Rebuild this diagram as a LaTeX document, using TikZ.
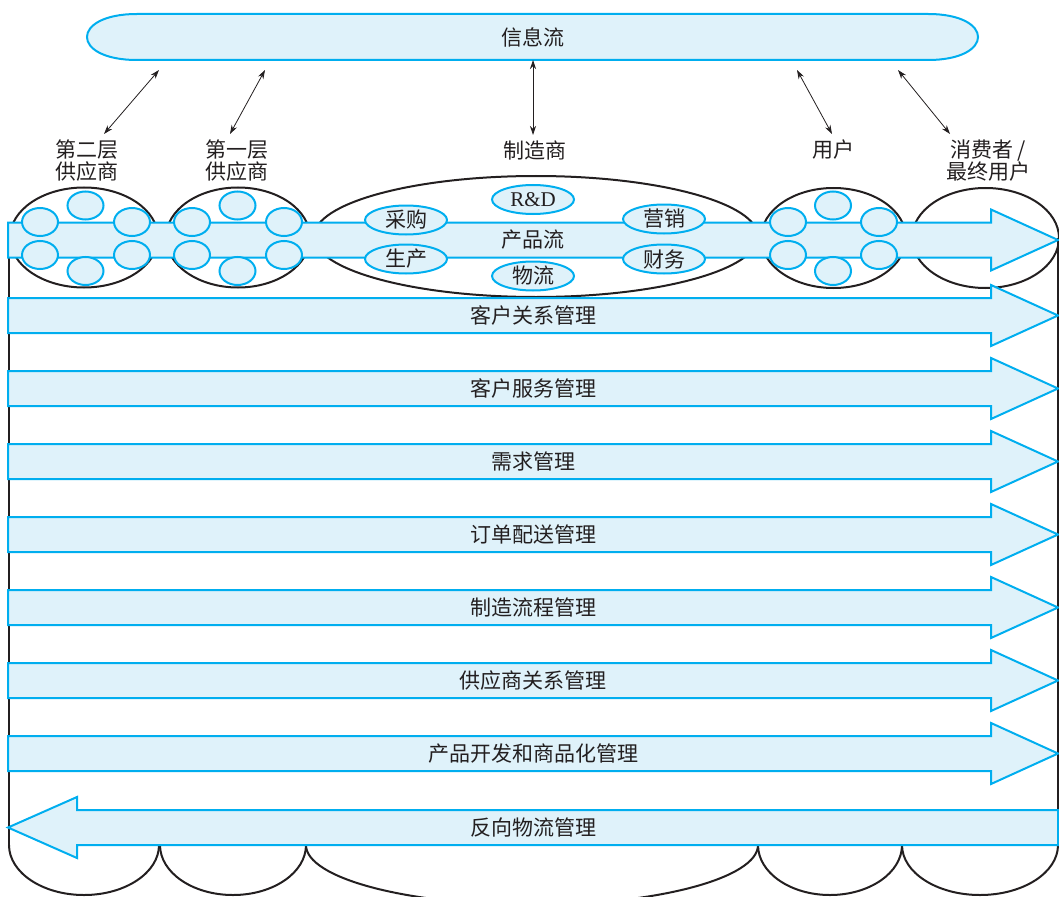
\documentclass[tikz,border=0pt]{standalone}
\usepackage{fontspec}
\setmainfont{Liberation Serif}
\newfontfamily\cjk{Noto Sans CJK SC}
\usetikzlibrary{arrows.meta,shapes.geometric}
\definecolor{cyanline}{HTML}{00AEEF}
\definecolor{lightfill}{HTML}{DFF2FA}
\definecolor{ink}{HTML}{231F20}
\newcommand\rflow[3]{%
  \draw[flowarrow] (8,#2-17.5) -- (991,#2-17.5) -- (991,#2-30.5) -- (1058,#2) -- (991,#2+30.5) -- (991,#2+17.5) -- (8,#2+17.5) -- cycle;
  \node[lbl] (#1) at (533,#2) {#3};}
\begin{document}
\begin{tikzpicture}[x=1pt,y=-1pt,
  outline/.style={draw=ink,line width=2pt},
  bigell/.style={ellipse,draw=ink,line width=2pt,inner sep=0pt},
  sell/.style={ellipse,draw=cyanline,fill=lightfill,line width=2pt,inner sep=0pt,minimum width=36,minimum height=28},
  mell/.style={ellipse,draw=cyanline,fill=lightfill,line width=2pt,inner sep=0pt,minimum width=82,minimum height=29,font=\fontsize{21}{23}\selectfont\cjk,text=ink},
  flowarrow/.style={fill=lightfill,draw=cyanline,line width=2pt,line join=miter},
  lbl/.style={font=\fontsize{21}{22}\selectfont\cjk,text=ink,inner sep=0pt,align=center},
  dbl/.style={{Stealth[length=9pt,width=6pt]}-{Stealth[length=9pt,width=6pt]},draw=ink,line width=0.8pt}]
\useasboundingbox (0,0) rectangle (1059,896);

% information flow
\draw[fill=lightfill,draw=cyanline,line width=2pt] (137,14) -- (928,14) .. controls (994.7,14) and (994.7,60) .. (928,60) -- (137,60) .. controls (70.3,60) and (70.3,14) .. (137,14) -- cycle;
\node[lbl] (info) at (533,37) {信息流};

% labels above
\node[lbl] (l2) at (87,161) {第二层\\供应商};
\node[lbl] (l1) at (237,161) {第一层\\供应商};
\node[lbl] (lm) at (535,150) {制造商};
\node[lbl] (lu) at (833,150) {用户};
\node[lbl] (lc) at (988,161) {消费者 /\\最终用户};

% double arrows
\coordinate (a1s) at (159,70); \coordinate (a1e) at (104,134);
\coordinate (a2s) at (265,70); \coordinate (a2e) at (230,134);
\coordinate (a3s) at (533,60); \coordinate (a3e) at (533,135);
\coordinate (a4s) at (797,70); \coordinate (a4e) at (832,134);
\coordinate (a5s) at (898,70); \coordinate (a5e) at (950,134);
\draw[dbl] (a1s) -- (a1e);
\draw[dbl] (a2s) -- (a2e);
\draw[dbl] (a3s) -- (a3e);
\draw[dbl] (a4s) -- (a4e);
\draw[dbl] (a5s) -- (a5e);

% big ellipses (top)
\node[bigell,minimum width=148,minimum height=100] (e1) at (84,237.5) {};
\node[bigell,minimum width=144,minimum height=100] (e2) at (238,237.5) {};
\node[bigell,minimum width=444,minimum height=121] (e3) at (536,236.5) {};
\node[bigell,minimum width=145,minimum height=100] (e4) at (833.5,238) {};
\node[bigell,minimum width=147,minimum height=100] (e5) at (985.5,238) {};

% side lines
\coordinate (lt) at (9,237.5); \coordinate (lb) at (9,845);
\coordinate (rt) at (1058,238); \coordinate (rb) at (1058,845);
\draw[outline] (lt) -- (lb);
\draw[outline] (rt) -- (rb);

% bottom half ellipses
\begin{scope}
\clip (0,845) rectangle (1059,896);
\draw[outline] (84,845) ellipse [x radius=75, y radius=50];
\draw[outline] (233,845) ellipse [x radius=73, y radius=50];
\draw[outline] (532,845) ellipse [x radius=226, y radius=60];
\draw[outline] (830,845) ellipse [x radius=72, y radius=50];
\draw[outline] (980,845) ellipse [x radius=78, y radius=50];
\end{scope}

% product flow
\rflow{pf}{240}{产品流}

% small ellipses
\node[sell] (s1a) at (40,222) {};
\node[sell] (s1b) at (40,255) {};
\node[sell] (s1c) at (85.5,205.5) {};
\node[sell] (s1d) at (85.5,271) {};
\node[sell] (s1e) at (132,222) {};
\node[sell] (s1f) at (132,255) {};
\node[sell] (s2a) at (192,222) {};
\node[sell] (s2b) at (192,255) {};
\node[sell] (s2c) at (237.5,205.5) {};
\node[sell] (s2d) at (237.5,271) {};
\node[sell] (s2e) at (284,222) {};
\node[sell] (s2f) at (284,255) {};
\node[sell] (s4a) at (788,222) {};
\node[sell] (s4b) at (788,255) {};
\node[sell] (s4c) at (833,205.5) {};
\node[sell] (s4d) at (833,271) {};
\node[sell] (s4e) at (879,222) {};
\node[sell] (s4f) at (879,255) {};

% manufacturer functions
\node[mell] (cg) at (406,220) {采购};
\node[mell] (sc) at (406,259) {生产};
\node[mell,font=\fontsize{21}{23}\selectfont] (rd) at (533,199.5) {R\&D};
\node[mell] (wl) at (533,276) {物流};
\node[mell] (yx) at (664,219) {营销};
\node[mell] (cw) at (664,259) {财务};

% process flows
\rflow{crm}{315.5}{客户关系管理}
\rflow{csm}{388.5}{客户服务管理}
\rflow{dm}{461.5}{需求管理}
\rflow{of}{534.5}{订单配送管理}
\rflow{mf}{607.5}{制造流程管理}
\rflow{srm}{680.5}{供应商关系管理}
\rflow{pd}{753.5}{产品开发和商品化管理}

% reverse logistics
\draw[flowarrow] (1058,810) -- (77,810) -- (77,797) -- (8,827.5) -- (77,858) -- (77,845) -- (1058,845) -- cycle;
\node[lbl] (rl) at (533,827.5) {反向物流管理};
\end{tikzpicture}
\end{document}
